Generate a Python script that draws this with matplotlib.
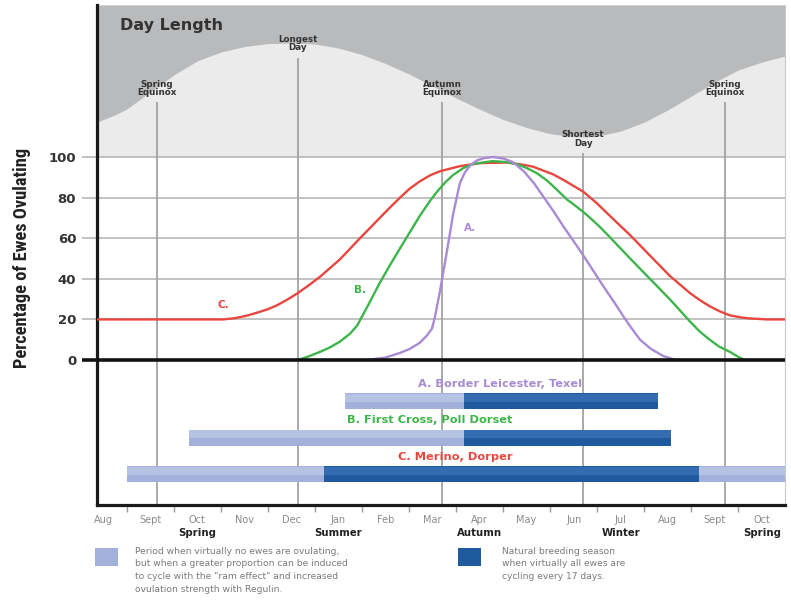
import matplotlib
matplotlib.use('Agg')
import matplotlib.pyplot as plt
from matplotlib import font_manager
from matplotlib.patches import Rectangle

# ---------------- data ----------------
months = ['Aug', 'Sept', 'Oct', 'Nov', 'Dec', 'Jan', 'Feb', 'Mar', 'Apr',
          'May', 'Jun', 'Jul', 'Aug', 'Sept', 'Oct']
seasons = ['Spring', 'Summer', 'Autumn', 'Winter', 'Spring']
season_month_idx = [2, 5, 8, 11, 14]
y_ticks = [0, 20, 40, 60, 80, 100]

# x positions are in "months from start of first Aug"
day_x = [0.37, 0.75, 1.0, 1.5, 2.0, 2.5, 3.0, 3.5, 4.0, 4.5, 5.0, 5.5, 6.0,
         6.5, 7.0, 7.5, 8.0, 8.5, 9.0, 9.5, 10.0, 10.5, 10.75, 11.0, 11.5,
         12.0, 12.5, 13.0, 13.5, 14.0, 14.5, 15.0]
day_len = [117.2, 120.7, 123.6, 132.0, 140.4, 147.3, 151.7, 154.4, 155.9,
           156.2, 155.7, 153.7, 150.5, 146.1, 140.9, 135.0, 129.1, 123.6,
           118.5, 114.5, 111.5, 110.0, 109.9, 110.3, 112.8, 117.2, 123.2,
           130.0, 136.9, 142.9, 146.8, 149.8]

c_x = [0.37, 2.00, 3.05, 3.30, 3.55, 3.77, 4.00, 4.20, 4.42, 4.64, 4.87, 5.11,
       5.53, 5.96, 6.38, 6.59, 6.81, 7.02, 7.23, 7.45, 7.66, 8.08, 8.51, 9.08,
       9.40, 9.63, 10.06, 10.30, 10.48, 10.70, 10.98, 11.27, 11.70, 12.12, 12.54,
       12.97, 13.18, 13.39, 13.60, 13.82, 14.05, 14.24, 14.60, 15.00]
c_y = [20, 20, 20, 20.6, 21.8, 23.3, 25.0, 27.0, 29.8, 33.0, 36.8, 41.0,
       49.5, 60.0, 70.0, 75.0, 80.0, 84.5, 88.0, 91.0, 93.0, 95.5, 97.0, 97.3,
       96.3, 95.3, 91.5, 88.5, 86.0, 83.0, 77.5, 71.0, 61.5, 51.5, 41.5,
       33.0, 29.5, 26.5, 24.0, 22.0, 21.0, 20.5, 20.0, 20.0]

b_x = [4.64, 4.87, 5.11, 5.32, 5.53, 5.75, 5.90, 6.11, 6.38, 6.59, 6.81, 7.02,
       7.23, 7.45, 7.60, 7.77, 7.93, 8.15, 8.36, 8.78, 9.08, 9.30, 9.51, 9.72,
       9.93, 10.14, 10.36, 10.48, 10.70, 10.85, 11.06, 11.27, 11.70, 12.12,
       12.54, 12.97, 13.18, 13.39, 13.60, 13.82, 13.98, 14.13]
b_y = [0.0, 1.8, 4.0, 6.2, 9.0, 13.0, 17.0, 26.0, 38.0, 46.5, 55.0, 63.0,
       71.0, 78.5, 83.0, 87.5, 91.0, 94.5, 96.6, 98.0, 97.5, 96.5, 94.5, 92.0,
       88.5, 84.0, 79.0, 77.0, 73.0, 70.0, 65.5, 60.5, 50.0, 40.0,
       30.0, 19.0, 14.0, 10.0, 6.5, 4.0, 1.8, 0.0]

a_x = [6.11, 6.50, 6.81, 7.02, 7.23, 7.38, 7.49, 7.55, 7.66, 7.81, 7.94, 8.08,
       8.19, 8.30, 8.44, 8.60, 8.78, 9.00, 9.21, 9.44, 9.66, 9.87, 10.08, 10.29,
       10.50, 10.72, 10.93, 11.14, 11.36, 11.57, 11.72, 11.91, 12.14, 12.40,
       12.63, 12.80]
a_y = [0.0, 1.2, 3.5, 5.5, 8.5, 12.0, 15.5, 21.0, 34.0, 54.0, 72.0, 87.0,
       92.5, 95.8, 98.3, 99.5, 100.0, 99.3, 97.5, 93.0, 87.0, 80.0, 73.0, 65.5,
       58.5, 51.0, 43.5, 36.0, 28.5, 21.0, 16.0, 10.0, 5.5, 2.0,
       0.3, 0.0]

events_x = [1.65, 4.64, 7.70, 10.70, 13.71]
events_top = [127, 149, 127, 102, 127]
events_labels = ['Spring\nEquinox', 'Longest\nDay', 'Autumn\nEquinox',
                 'Shortest\nDay', 'Spring\nEquinox']

bar_labels = ['A. Border Leicester, Texel', 'B. First Cross, Poll Dorset',
              'C. Merino, Dorper']
bar_rows = [-20.4, -38.4, -56.2]
light_row = [0, 1, 2, 2]
light_start = [5.64, 2.33, 1.01, 13.16]
light_end = [8.17, 8.17, 5.19, 15.00]
dark_row = [0, 1, 2]
dark_start = [8.17, 8.17, 5.19]
dark_end = [12.29, 12.57, 13.16]

legend_light = ('Period when virtually no ewes are ovulating,\n'
                'but when a greater proportion can be induced\n'
                'to cycle with the "ram effect" and increased\n'
                'ovulation strength with Regulin.')
legend_dark = ('Natural breeding season\nwhen virtually all ewes are\n'
               'cycling every 17 days.')

# ---------------- style ----------------
names = {f.name for f in font_manager.fontManager.ttflist}
COND = next((n for n in ['Liberation Sans Narrow', 'DejaVu Sans Condensed',
                         'Roboto Condensed'] if n in names), 'Liberation Sans')

RED = '#e8463e'
GREEN = '#3db54b'
PURPLE = '#a88bd2'
LIGHTBAR = '#a2b1dc'
DARKBAR = '#1f5a9f'
GRID = '#b1b1b1'
DARKGREY = '#b9babc'
LIGHTGREY = '#ebebeb'
TXT = '#333333'

W, H = 791, 604
fig = plt.figure(figsize=(W / 100, H / 100), dpi=100)


def box(x0, y0, x1, y1):
    return [x0 / W, 1 - y1 / H, (x1 - x0) / W, (y1 - y0) / H]


ax = fig.add_axes(box(97, 5, 785, 505))
XMIN, XMAX = 0.372, 14.99
YMIN, YMAX = -71.43, 174.9
ax.set_xlim(XMIN, XMAX)
ax.set_ylim(YMIN, YMAX)

# day length background
ax.fill_between([XMIN, XMAX], 100, YMAX, color=LIGHTGREY, lw=0, zorder=0)
ax.fill_between(day_x, day_len, YMAX, color=DARKGREY, lw=0, zorder=0.5)
ax.text(0.86, 165, 'Day Length', ha='left', va='center', fontsize=11.5,
        fontweight='bold', color=TXT)

# horizontal grid
ax.hlines(y_ticks[1:], XMIN, XMAX, color=GRID, lw=1.1, zorder=1)

# event lines
ax.vlines(events_x, YMIN, events_top, color='#a3a3a3', lw=1.3, zorder=2)
for x, t, lab in zip(events_x, events_top, events_labels):
    ax.text(x, t + 2.5, lab, ha='center', va='bottom', fontsize=6.3,
            fontweight='bold', color=TXT, linespacing=0.95)

# curves
ax.plot(c_x, c_y, color=RED, lw=1.7, zorder=4, solid_capstyle='round',
        solid_joinstyle='round')
ax.plot(b_x, b_y, color=GREEN, lw=1.7, zorder=4, solid_capstyle='round',
        solid_joinstyle='round')
ax.plot(a_x, a_y, color=PURPLE, lw=1.7, zorder=4, solid_capstyle='round',
        solid_joinstyle='round')
ax.text(3.05, 27, 'C.', color=RED, fontsize=7.5, fontweight='bold',
        ha='center', va='center')
ax.text(5.96, 34.5, 'B.', color=GREEN, fontsize=7.5, fontweight='bold',
        ha='center', va='center')
ax.text(8.30, 65, 'A.', color=PURPLE, fontsize=7.5, fontweight='bold',
        ha='center', va='center')

# zero line
ax.axhline(0, color='#111111', lw=2.6, zorder=5)

# bars
BH = 7.9
for r, s, e in zip(light_row, light_start, light_end):
    y = bar_rows[r]
    ax.barh(y, e - s, left=s, height=BH, color=LIGHTBAR, lw=0, zorder=3)
    ax.barh(y + BH * 0.22, e - s, left=s, height=BH * 0.5, color='white',
            alpha=0.22, lw=0, zorder=3.1)
for r, s, e in zip(dark_row, dark_start, dark_end):
    y = bar_rows[r]
    ax.barh(y, e - s, left=s, height=BH, color=DARKBAR, lw=0, zorder=3.2)
    ax.barh(y + BH * 0.22, e - s, left=s, height=BH * 0.5, color='#5b8fd0',
            alpha=0.35, lw=0, zorder=3.3)
bar_label_x = [8.93, 7.45, 7.98]
bar_label_colors = [PURPLE, GREEN, RED]
for lab, y, x, c in zip(bar_labels, bar_rows, bar_label_x, bar_label_colors):
    ax.text(x, y + 8.6, lab, ha='center', va='center', fontsize=8.2,
            fontweight='bold', color=c)

# spines
ax.spines['top'].set_visible(False)
ax.spines['right'].set_color('#c8c8c8')
ax.spines['right'].set_linewidth(0.8)
ax.spines['left'].set_color('#1a1a1a')
ax.spines['left'].set_linewidth(2.3)
ax.spines['bottom'].set_color('#1a1a1a')
ax.spines['bottom'].set_linewidth(2.3)

# y ticks
ax.set_yticks(y_ticks)
ax.set_yticklabels([str(v) for v in y_ticks])
ax.tick_params(axis='y', length=11, width=1.1, color=GRID, pad=4,
               labelsize=9.5, labelcolor=TXT)
for lab in ax.get_yticklabels():
    lab.set_fontweight('bold')
t0 = ax.yaxis.get_major_ticks()[0]
t0.tick1line.set_markeredgecolor('#111111')
t0.tick1line.set_markeredgewidth(2.6)

# x ticks
ax.set_xticks(range(1, 15))
ax.set_xticklabels([''] * 14)
ax.set_xticks([i + 0.5 for i in range(len(months))], minor=True)
ax.set_xticklabels(months, minor=True)
ax.tick_params(axis='x', which='major', length=5, width=1, color='#9a9a9a')
ax.tick_params(axis='x', which='minor', length=0, pad=7, labelsize=7,
               labelcolor='#8a8a8a')
for i, s in zip(season_month_idx, seasons):
    ax.text(i + 0.5, -85.2, s, ha='center', va='center', fontsize=7.3,
            fontweight='bold', color='#222222', clip_on=False)

fig.text(22 / W, 1 - 257.5 / H, 'Percentage of Ewes Ovulating', rotation=90,
         ha='center', va='center', family=COND, fontweight='bold',
         fontsize=13.2, color='#222222')

# legend
fig.add_artist(Rectangle((95 / W, 1 - 566 / H), 23 / W, 18 / H,
                         transform=fig.transFigure, facecolor=LIGHTBAR, lw=0))
fig.add_artist(Rectangle((458 / W, 1 - 566 / H), 23 / W, 18 / H,
                         transform=fig.transFigure, facecolor=DARKBAR, lw=0))
fig.text(135 / W, 1 - 547 / H, legend_light, ha='left', va='top',
         fontsize=6.6, color='#7a7a7a', linespacing=1.5)
fig.text(502 / W, 1 - 547 / H, legend_dark, ha='left', va='top',
         fontsize=6.6, color='#7a7a7a', linespacing=1.5)

fig.savefig('out.png', dpi=100)
